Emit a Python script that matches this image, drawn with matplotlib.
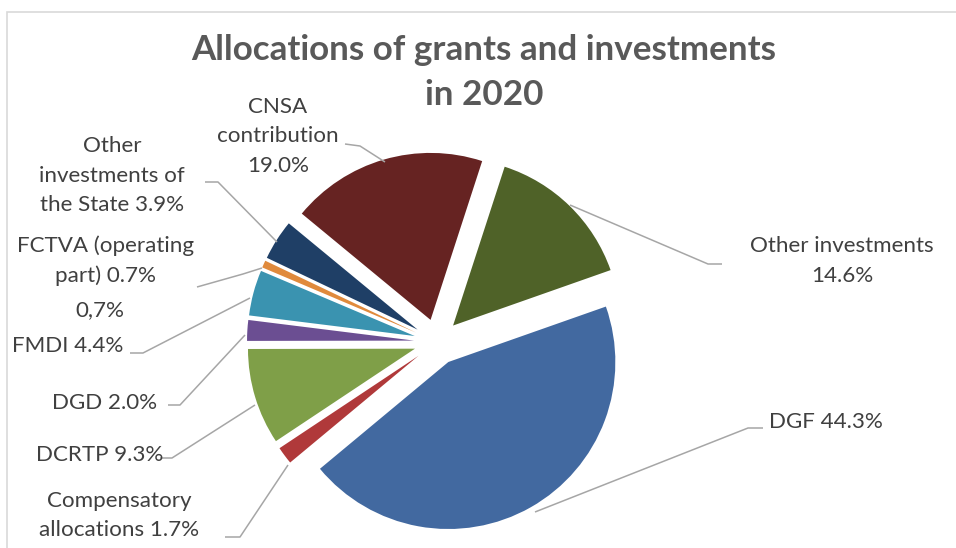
import matplotlib
matplotlib.use("Agg")
import matplotlib.pyplot as plt
from matplotlib.patches import Rectangle

# ---- data ----
categories = ["CNSA contribution", "Other investments of the State", "FCTVA (operating part)",
              "FMDI", "DGD", "DCRTP", "Compensatory allocations", "DGF", "Other investments"]
values = [19.0, 3.9, 0.7, 4.4, 2.0, 9.3, 1.7, 44.3, 14.6]
colors = ["#662322", "#1F3F66", "#E08A3C", "#3A93B0", "#6B4E92", "#7F9F48",
          "#B0393A", "#4269A0", "#4F6228"]
label_fmt = ["CNSA\ncontribution\n{}", "Other\ninvestments of\nthe State {}",
             "FCTVA (operating\npart) {}", "FMDI {}", "DGD {}", "DCRTP {}",
             "Compensatory\nallocations {}", "DGF {}", "Other investments\n{}"]
title = "Allocations of grants and investments\nin 2020"

# ---- layout (image pixel coords, y from top) ----
W, H = 956, 548
center = (437, 342)
radius = 167
explode_px = 23
# label: (x center, first baseline)
label_pos = [(278, 113), (112, 152), (106, 252), (68, 352), (105, 409),
             (100, 461), (119, 507), (826, 428), (842, 252)]
leaders = [[(345, 144), (360, 146), (385, 162)],
           [(205, 182), (218, 182), (277, 242)],
           [(197, 287), (243, 274), (262, 268)],
           [(130, 353), (143, 353), (250, 298)],
           [(168, 405), (180, 405), (245, 335)],
           [(160, 458), (172, 458), (255, 405)],
           [(225, 537), (240, 537), (288, 465)],
           [(763, 428), (748, 428), (535, 512)],
           [(722, 264), (708, 264), (570, 205)]]
line_gap = 29.5

plt.rcParams['font.family'] = ['Lato', 'DejaVu Sans']
fig = plt.figure(figsize=(W / 100, H / 100), dpi=100)
ax = fig.add_axes([0, 0, 1, 1])
ax.set_xlim(0, W)
ax.set_ylim(0, H)
ax.set_aspect('equal')
ax.axis('off')

def Y(y):
    return H - y

# chart frame
ax.add_patch(Rectangle((7, Y(1000)), 2000, 1000 - 12, fill=False,
                       edgecolor="#D9D9D9", lw=1.2))

ax.pie(values, colors=colors, startangle=72, counterclock=True,
       explode=[explode_px] * len(values), radius=radius,
       center=(center[0], Y(center[1])),
       wedgeprops=dict(linewidth=0), frame=True)
ax.set_xlim(0, W)
ax.set_ylim(0, H)
ax.axis('off')

# leader lines
for pts in leaders:
    xs = [p[0] for p in pts]
    ys = [Y(p[1]) for p in pts]
    ax.plot(xs, ys, color="#A6A6A6", lw=1.1, solid_capstyle='butt')

# labels
fs = 16.1
for fmt, v, (x, y0) in zip(label_fmt, values, label_pos):
    txt = fmt.format(f"{v:.1f}%")
    for i, line in enumerate(txt.split("\n")):
        ax.text(x, Y(y0 + i * line_gap), line, ha='center', va='baseline',
                fontsize=fs, color="#404040")
ax.text(100, Y(316), "0,7%", ha='center', va='baseline', fontsize=fs, color="#404040")

# title
for i, line in enumerate(title.split("\n")):
    ax.text(484, Y(60 + i * 45), line, ha='center', va='baseline',
            fontsize=25.2, fontweight='bold', color="#595959")

fig.savefig("out.png", dpi=100)
